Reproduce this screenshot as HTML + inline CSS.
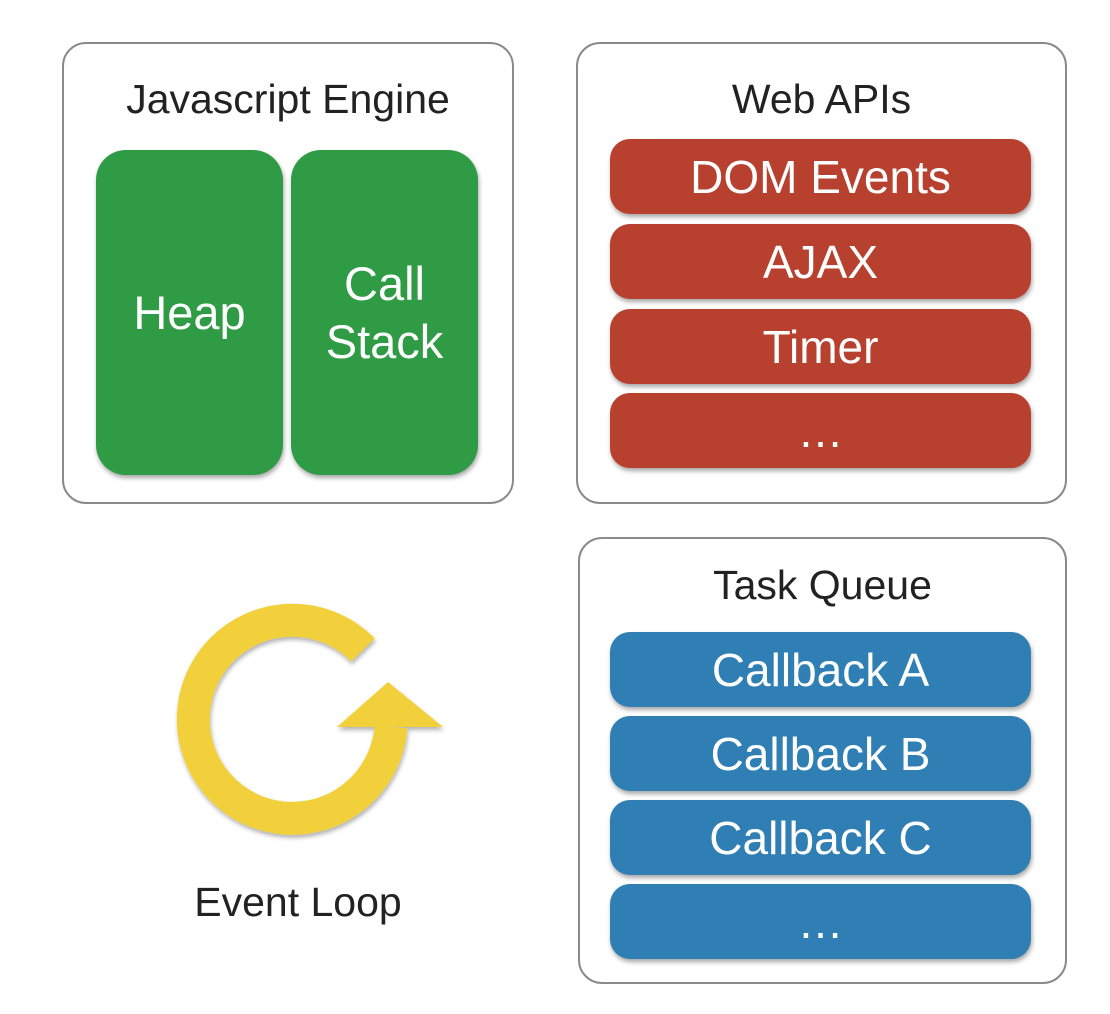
<!DOCTYPE html>
<html><head><style>
body{margin:0;background:#fff;width:1110px;height:1014px;position:relative;overflow:hidden;font-family:"Liberation Sans",sans-serif}
.box{position:absolute;border:2.5px solid #8a8a8e;border-radius:24px;box-sizing:border-box}
.t{position:absolute;text-align:center;color:#222;font-size:41px;line-height:1;white-space:nowrap}
.g,.r,.b{position:absolute;color:#fff;text-align:center;box-shadow:1px 3px 5px rgba(0,0,0,.35);display:flex;align-items:center;justify-content:center;white-space:nowrap}
.g{background:#2f9b45;border-radius:30px;font-size:47px;line-height:58px}
.r{background:#b8402f;border-radius:20px;font-size:46px;left:610px;width:421px;height:75px}
.b{background:#2f7fb4;border-radius:20px;font-size:46px;left:610px;width:421px;height:75px}
</style></head><body>
<div class="box" style="left:62px;top:42px;width:452px;height:462px"></div>
<div class="t" style="left:62px;width:452px;top:79px">Javascript Engine</div>
<div class="g" style="left:96px;top:150px;width:187px;height:325px">Heap</div>
<div class="g" style="left:291px;top:150px;width:187px;height:325px">Call<br>Stack</div>

<div class="box" style="left:576px;top:42px;width:491px;height:462px"></div>
<div class="t" style="left:576px;width:491px;top:79px">Web APIs</div>
<div class="r" style="top:139px">DOM Events</div>
<div class="r" style="top:224px">AJAX</div>
<div class="r" style="top:309px">Timer</div>
<div class="r" style="top:393px">…</div>

<div class="box" style="left:578px;top:537px;width:489px;height:447px"></div>
<div class="t" style="left:578px;width:489px;top:565px">Task Queue</div>
<div class="b" style="top:632px">Callback A</div>
<div class="b" style="top:716px">Callback B</div>
<div class="b" style="top:800px">Callback C</div>
<div class="b" style="top:884px">…</div>

<svg style="position:absolute;left:0;top:0" width="1110" height="1014">
<defs><filter id="s" x="-20%" y="-20%" width="140%" height="140%"><feDropShadow dx="1" dy="3" stdDeviation="2" flood-opacity=".3"/></filter></defs>
<g filter="url(#s)" fill="#f2d03b">
<path d="M 363 650 A 99 99 0 1 0 391 727" fill="none" stroke="#f2d03b" stroke-width="33"/>
<polygon points="337,727 388,682 443,727"/>
</g>
</svg>
<div class="t" style="left:148px;width:300px;top:882px">Event Loop</div>
</body></html>
